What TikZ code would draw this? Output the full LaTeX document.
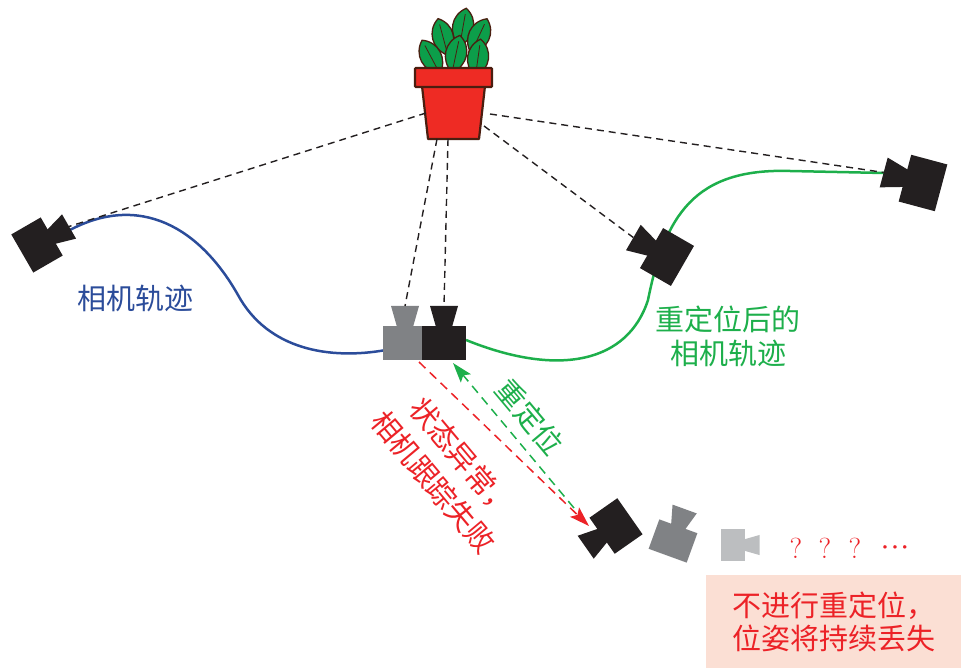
\documentclass[tikz,border=0pt]{standalone}
\usepackage{fontspec}
\newfontfamily\cjk{Noto Sans CJK SC}
\usetikzlibrary{arrows.meta}
\definecolor{camblack}{HTML}{231F20}
\definecolor{camgray}{HTML}{808285}
\definecolor{camlight}{HTML}{BCBEC0}
\definecolor{trackblue}{HTML}{2B4C9A}
\definecolor{relocgreen}{HTML}{1DAF4B}
\definecolor{failred}{HTML}{EC2227}
\definecolor{notepink}{HTML}{FBDFD4}
\definecolor{potred}{HTML}{EE2B24}
\definecolor{leafgreen}{HTML}{0C9E4A}
\definecolor{potline}{HTML}{4A1E10}
\tikzset{
sight/.style={
draw=camblack,
line width=1.4pt,
dash pattern=on 7pt off 5pt
},
track/.style={
line width=2.5pt
},
jump/.style={
line width=1.5pt,
dash pattern=on 9pt off 6pt,
-{Stealth[length=20pt,width=13pt,inset=4pt]}
},
cnlabel/.style={
font=\cjk\fontsize{29}{34}\selectfont,
align=center,
inner sep=0pt
},
qmark/.style={
font=\fontsize{29}{30}\selectfont,
text=failred,
inner sep=0pt
},
notebox/.style={
fill=notepink,
minimum width=255pt,
minimum height=93pt,
inner sep=0pt,
text=failred,
font=\cjk\fontsize{29}{33}\selectfont,
align=left
},
leafshape/.style={
fill=leafgreen,
draw=potline,
line width=1.3pt
},
pics/camera/.style={code={
  \fill[#1] (-17,-22) rectangle (17,22);
  \fill[#1] (16,-8) -- (37,-14) -- (37,14) -- (16,8) -- cycle;
  \coordinate (-tip) at (37,0);
}},
pics/leaf/.style={code={
  \filldraw[leafshape] (0,-19) .. controls (14,-10) and (14,9) .. (0,19)
    .. controls (-14,9) and (-14,-10) .. (0,-19) -- cycle;
  \draw[potline, line width=0.8pt] (0,-13) -- (0,13);
}}
}

\begin{document}
\begin{tikzpicture}[x=1pt, y=-1pt]
\useasboundingbox (0,0) rectangle (961,668);

% the plant
\pic[rotate=15] (leafA) at (443,37) {leaf};
\pic[rotate=-10] (leafB) at (463,27) {leaf};
\pic[rotate=-25] (leafC) at (479,36) {leaf};
\pic[rotate=28] (leafD) at (431,57) {leaf};
\pic[rotate=-12] (leafE) at (456,54) {leaf};
\pic[rotate=-8] (leafF) at (478,58) {leaf};
\filldraw[fill=potred, draw=potline, line width=2.2pt, line join=round]
  (422,86) -- (485,86) -- (479,139) -- (428,139) -- cycle;
\filldraw[fill=potred, draw=potline, line width=2.2pt, rounded corners=1pt]
  (415,68) rectangle (492,87);
\coordinate (potL) at (426,113);
\coordinate (potB1) at (437,139);
\coordinate (potB2) at (448,139);
\coordinate (potR1) at (484,126);
\coordinate (potR2) at (490,114);

% trajectories
\coordinate (trackStart) at (68,231);
\coordinate (trackEnd) at (386,350);
\coordinate (relocStart) at (466,340);
\draw[track, trackblue] (trackStart) .. controls (140,192) and (200,228) .. (238,295)
  .. controls (268,350) and (330,360) .. (trackEnd);
\draw[track, relocgreen] (relocStart) .. controls (560,378) and (628,362) .. (648,300)
  .. controls (665,215) and (695,168) .. (790,171) -- (884,173);

% cameras
\pic[rotate=30] (camL) at (37,245) {camera=camblack};
\pic[rotate=90] (camG) at (405,343) {camera=camgray};
\pic[rotate=90] (camM) at (444,343) {camera=camblack};
\pic[rotate=150, scale=1.05] (camR1) at (667,257) {camera=camblack};
\pic[rotate=165, scale=1.1] (camR2) at (923,183) {camera=camblack};
\pic[rotate=215] (camB1) at (616,526) {camera=camblack};
\pic[rotate=70, scale=0.92] (camB2) at (673,541) {camera=camgray};
\pic[scale=0.72] (camB3) at (733,545) {camera=camlight};

% lines of sight
\draw[sight] (potL) -- (camL-tip);
\draw[sight] (potB1) -- (camG-tip);
\draw[sight] (potB2) -- (camM-tip);
\draw[sight] (potR1) -- (camR1-tip);
\draw[sight] (potR2) -- (camR2-tip);

% lost / relocalised
\coordinate (failFrom) at (419,362);
\coordinate (failTo) at (589,526);
\coordinate (relocFrom) at (574,508);
\coordinate (relocTo) at (453,363);
\draw[jump, failred] (failFrom) -- (failTo);
\draw[jump, relocgreen] (relocFrom) -- (relocTo);

\node[cnlabel, text=trackblue] (oldTrack) at (135,298) {相机轨迹};
\node[cnlabel, text=relocgreen] (newTrack) at (728,336) {重定位后的\\相机轨迹};
\node[cnlabel, text=relocgreen, rotate=-50] (relocNote) at (530,417) {重定位};
\node[cnlabel, text=failred, rotate=-50, font=\cjk\fontsize{29}{38}\selectfont]
  (failNote) at (448,470) {状态异常，\\相机跟踪失败};

\foreach \x [count=\i] in {796,825,855} {
  \node[qmark] (q\i) at (\x,548) {?};
}
\node[qmark, font=\fontsize{13}{14}\selectfont] (moreDots) at (895,548)
  {\textbullet\textbullet\textbullet};

\node[notebox] (lostNote) at (833.5,621.5) {不进行重定位，\\位姿将持续丢失};

\end{tikzpicture}
\end{document}
